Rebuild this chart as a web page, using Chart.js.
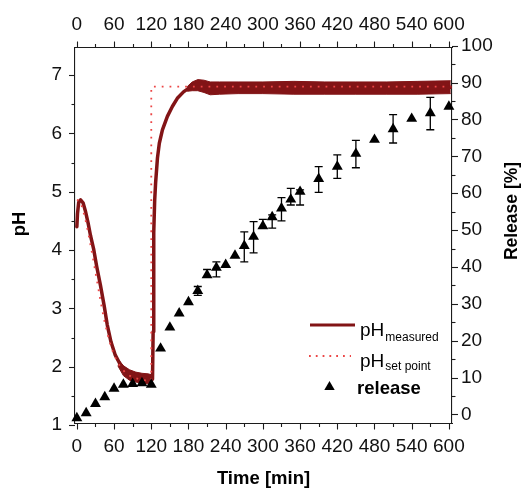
<!DOCTYPE html>
<html><head><meta charset="utf-8">
<script src="https://cdn.jsdelivr.net/npm/chart.js@4.4.1/dist/chart.umd.min.js"></script>
<style>html,body{margin:0;padding:0;background:#fff;}#wrap{width:522px;height:488px;}</style>
</head><body><div id="wrap"><canvas id="c" width="522" height="488"></canvas></div>
<script>
// ---- data ----
const phMeasuredTime = [0,1,3,6,10,14,18,22,27,32,38,44,49,55,62,70,80,90,100,110,118,122,123,124,125.5,127,130,133,138,146,154,162,172,184,192,200,215,240,300,360,420,480,540,603];
const phMeasured     = [4.40,4.62,4.82,4.86,4.81,4.66,4.47,4.25,4.02,3.72,3.40,3.05,2.72,2.43,2.20,2.04,1.93,1.87,1.84,1.81,1.79,1.79,2.6,4.3,4.85,5.15,5.58,5.83,6.06,6.29,6.46,6.60,6.71,6.80,6.84,6.85,6.78,6.79,6.78,6.78,6.77,6.78,6.78,6.79];

// noise band of the measured pH (upper / lower envelope)
const bandLowTime  = [66,75,85,95,105,115,122];
const bandLowUpper = [2.14,2.02,1.95,1.91,1.89,1.88,1.86];
const bandLowLower = [2.02,1.85,1.77,1.74,1.72,1.71,1.71];
const bandTopTime  = [178,186,195,205,215,230,260,300,350,400,450,500,550,603];
const bandTopUpper = [6.80,6.88,6.92,6.91,6.88,6.88,6.88,6.88,6.89,6.88,6.88,6.88,6.89,6.90];
const bandTopLower = [6.72,6.73,6.73,6.70,6.66,6.67,6.68,6.68,6.67,6.67,6.67,6.67,6.67,6.68];

const phSetTime = [0,4,8,12,16,20,25,30,35,40,45,50,55,60,70,80,90,100,110,120,120,603];
const phSet     = [4.86,4.85,4.75,4.60,4.42,4.20,3.92,3.62,3.32,3.02,2.76,2.54,2.35,2.20,2.00,1.88,1.82,1.79,1.77,1.76,6.80,6.80];

const releaseTime  = [0,15,30,45,60,75,90,105,120,135,150,165,180,195,210,225,240,255,270,285,300,315,330,345,360,390,420,450,480,510,540,570,600];
const releaseValue = [-1.0,0.4,2.9,4.7,7.0,8.1,8.3,8.5,8.1,17.9,23.6,27.4,30.5,33.5,37.8,39.8,40.6,43.1,45.7,48.2,51.1,53.5,55.9,58.3,60.4,63.9,67.2,70.7,74.5,77.4,80.2,81.7,83.5];
const releaseErrPlus  = [0,0,0,0,0,0,0,0,0,0,0,0,0,1.2,1.5,1.6,0,0,3.8,4.1,1.8,0.6,2.9,3.0,0.5,3.3,3.2,3.6,0,3.9,0,4.3,0];
const releaseErrMinus = [0,0,0,0,0,0,0,0,0,0,0,0,0,1.2,0.6,2.5,0,0,4.3,4.4,0.6,3.0,3.4,1.5,3.6,3.7,3.2,3.8,0,3.8,0,4.5,0];

const timeTicks = [0,60,120,180,240,300,360,420,480,540,600];
const timeMinorTicks = [30,90,150,210,270,330,390,450,510,570];
const phTicks = [1,2,3,4,5,6,7];
const phMinorTicks = [1.5,2.5,3.5,4.5,5.5,6.5];
const releaseTicks = [0,10,20,30,40,50,60,70,80,90,100];
const releaseMinorTicks = [5,15,25,35,45,55,65,75,85,95];

const legendLabels = ['pH', 'measured', 'pH', 'set point', 'release'];
const titles = {x:'Time [min]', y:'pH', y2:'Release [%]'};

// ---- chart ----
const F = "'Liberation Sans', Arial, Helvetica, sans-serif";
const DARK = '#821416';
const SETC = '#ec4646';
const AX = '#1c1c1c';
const pts = (xs, ys) => xs.map((x,i)=>({x:x, y:ys[i]}));

const tickPlugin = {
  id:'minorMajorTicks',
  afterDraw(chart){
    const ctx = chart.ctx, a = chart.chartArea, s = chart.scales;
    ctx.save(); ctx.strokeStyle = AX; ctx.lineWidth = 1.1;
    const hx = (scale, vals, len, edge, dir) => vals.forEach(v => {
      const p = Math.round(scale.getPixelForValue(v)) + 0.5;
      ctx.beginPath(); ctx.moveTo(p, edge); ctx.lineTo(p, edge + dir*len); ctx.stroke();
    });
    const vy = (scale, vals, len, edge, dir) => vals.forEach(v => {
      const p = Math.round(scale.getPixelForValue(v)) + 0.5;
      ctx.beginPath(); ctx.moveTo(edge, p); ctx.lineTo(edge + dir*len, p); ctx.stroke();
    });
    hx(s.x, timeTicks, 6, a.bottom, 1);  hx(s.x, timeMinorTicks, 3.5, a.bottom, 1);
    hx(s.x2, timeTicks, 6, a.top, -1);   hx(s.x2, timeMinorTicks, 3.5, a.top, -1);
    vy(s.y, phTicks, 6, a.left, -1);     vy(s.y, phMinorTicks, 3.5, a.left, -1);
    vy(s.y2, releaseTicks, 6, a.right, 1); vy(s.y2, releaseMinorTicks, 3.5, a.right, 1);
    // axis titles
    ctx.fillStyle = '#000';
    ctx.textAlign = 'center'; ctx.textBaseline = 'alphabetic';
    ctx.font = 'bold 18.5px ' + F;
    ctx.fillText(titles.x, (a.left + a.right)/2, 484);
    ctx.save(); ctx.translate(25, 224); ctx.rotate(-Math.PI/2); ctx.fillText(titles.y, 0, 0); ctx.restore();
    ctx.font = 'bold 17.5px ' + F;
    ctx.save(); ctx.translate(516.5, 211); ctx.rotate(-Math.PI/2); ctx.fillText(titles.y2, 0, 0); ctx.restore();
    ctx.restore();
  }
};

const errPlugin = {
  id:'errorBars',
  beforeDatasetDraw(chart, args){
    if (args.index !== 0) return;
    const ctx = chart.ctx, sx = chart.scales.x, sy = chart.scales.y2;
    ctx.save(); ctx.strokeStyle = '#000'; ctx.lineWidth = 1.3;
    releaseTime.forEach((t,i) => {
      const up = releaseErrPlus[i], dn = releaseErrMinus[i];
      if (!up && !dn) return;
      const px = sx.getPixelForValue(t);
      const yv = releaseValue[i];
      const yt = sy.getPixelForValue(yv + up), yb = sy.getPixelForValue(yv - dn);
      ctx.beginPath(); ctx.moveTo(px, yt); ctx.lineTo(px, yb);
      ctx.moveTo(px-4, yt); ctx.lineTo(px+4, yt);
      ctx.moveTo(px-4, yb); ctx.lineTo(px+4, yb);
      ctx.stroke();
    });
    ctx.restore();
  }
};

const legendPlugin = {
  id:'customLegend',
  afterDatasetsDraw(chart){
    const ctx = chart.ctx, a = chart.chartArea;
    const L = a.left, T = a.top;
    ctx.save();
    // measured line sample
    ctx.strokeStyle = DARK; ctx.lineWidth = 3;
    ctx.beginPath(); ctx.moveTo(L+235, T+277.5); ctx.lineTo(L+280, T+277.5); ctx.stroke();
    // set point dotted sample
    ctx.strokeStyle = SETC; ctx.lineWidth = 1.8; ctx.setLineDash([1.8,5]);
    ctx.beginPath(); ctx.moveTo(L+234, T+308.5); ctx.lineTo(L+276, T+308.5); ctx.stroke();
    ctx.setLineDash([]);
    // triangle
    const tx = L+254.5, ty = T+339.5, r = 6;
    ctx.fillStyle = '#000';
    ctx.beginPath();
    ctx.moveTo(tx, ty - r);
    ctx.lineTo(tx + r*Math.sin(2*Math.PI/3), ty - r*Math.cos(2*Math.PI/3));
    ctx.lineTo(tx + r*Math.sin(4*Math.PI/3), ty - r*Math.cos(4*Math.PI/3));
    ctx.closePath(); ctx.fill();
    // texts
    ctx.textAlign = 'left'; ctx.textBaseline = 'alphabetic';
    ctx.font = '19px ' + F;
    const w1 = ctx.measureText(legendLabels[0]).width;
    ctx.fillText(legendLabels[0], L+285, T+288.5);
    ctx.fillText(legendLabels[2], L+285, T+319);
    ctx.font = '12px ' + F;
    ctx.fillText(legendLabels[1], L+285+w1+1, T+293.3);
    ctx.fillText(legendLabels[3], L+285+w1+1, T+322.5);
    ctx.font = 'bold 18.5px ' + F;
    ctx.fillText(legendLabels[4], L+282, T+346.5);
    ctx.restore();
  }
};

const setTicks = arr => (scale => { scale.ticks = arr.map(v => ({value:v})); });
const tickFont = {family:F, size:19};

new Chart(document.getElementById('c'), {
  type:'line',
  data:{ datasets:[
    { label:'release', data:pts(releaseTime, releaseValue), xAxisID:'x', yAxisID:'y2',
      showLine:false, pointStyle:'triangle', pointRadius:6.3, pointHoverRadius:6.3,
      backgroundColor:'#000', borderColor:'#000', borderWidth:0, order:0, clip:false },
    { label:'pH set point', data:pts(phSetTime, phSet), xAxisID:'x', yAxisID:'y',
      borderColor:SETC, borderWidth:1.8, borderDash:[1.8,6], pointRadius:0, tension:0, order:1, fill:false },
    { label:'pH measured', data:pts(phMeasuredTime, phMeasured), xAxisID:'x', yAxisID:'y',
      borderColor:DARK, borderWidth:3.5, borderJoinStyle:'round', borderCapStyle:'round',
      pointRadius:0, tension:0, order:2, fill:false },
    { label:'band1u', data:pts(bandLowTime, bandLowUpper), xAxisID:'x', yAxisID:'y',
      borderColor:DARK, borderWidth:1, backgroundColor:DARK, pointRadius:0, fill:'+1', order:3 },
    { label:'band1l', data:pts(bandLowTime, bandLowLower), xAxisID:'x', yAxisID:'y',
      borderColor:DARK, borderWidth:1, pointRadius:0, fill:false, order:3 },
    { label:'band2u', data:pts(bandTopTime, bandTopUpper), xAxisID:'x', yAxisID:'y',
      borderColor:DARK, borderWidth:1, backgroundColor:DARK, pointRadius:0, fill:'+1', order:3 },
    { label:'band2l', data:pts(bandTopTime, bandTopLower), xAxisID:'x', yAxisID:'y',
      borderColor:DARK, borderWidth:1, pointRadius:0, fill:false, order:3 }
  ]},
  options:{
    responsive:false, animation:false, devicePixelRatio:1,
    layout:{padding:0},
    plugins:{ legend:{display:false}, tooltip:{enabled:false} },
    scales:{
      x:{ type:'linear', axis:'x', position:'bottom', min:-3, max:605,
          afterBuildTicks:setTicks(timeTicks), afterFit:s=>{s.height=64.5;},
          grid:{display:false, drawTicks:false}, border:{display:true, color:AX, width:1.1},
          ticks:{font:tickFont, color:'#111', padding:11.8, maxRotation:0, autoSkip:false} },
      x2:{ type:'linear', axis:'x', position:'top', min:-3, max:605,
          afterBuildTicks:setTicks(timeTicks), afterFit:s=>{s.height=47.5;},
          grid:{display:false, drawTicks:false}, border:{display:true, color:AX, width:1.1},
          ticks:{font:tickFont, color:'#111', padding:10.9, maxRotation:0, autoSkip:false} },
      y:{ type:'linear', axis:'y', position:'left', min:1.03, max:7.47,
          afterBuildTicks:setTicks(phTicks), afterFit:s=>{s.width=75;},
          grid:{display:false, drawTicks:false}, border:{display:true, color:AX, width:1.1},
          ticks:{font:tickFont, color:'#111', padding:13, autoSkip:false} },
      y2:{ type:'linear', axis:'y', position:'right', min:-2.45, max:99.5,
          afterBuildTicks:setTicks(releaseTicks), afterFit:s=>{s.width=70;},
          grid:{display:false, drawTicks:false}, border:{display:true, color:AX, width:1.1},
          ticks:{font:tickFont, color:'#111', padding:9, autoSkip:false} }
    }
  },
  plugins:[errPlugin, legendPlugin, tickPlugin]
});
</script></body></html>
